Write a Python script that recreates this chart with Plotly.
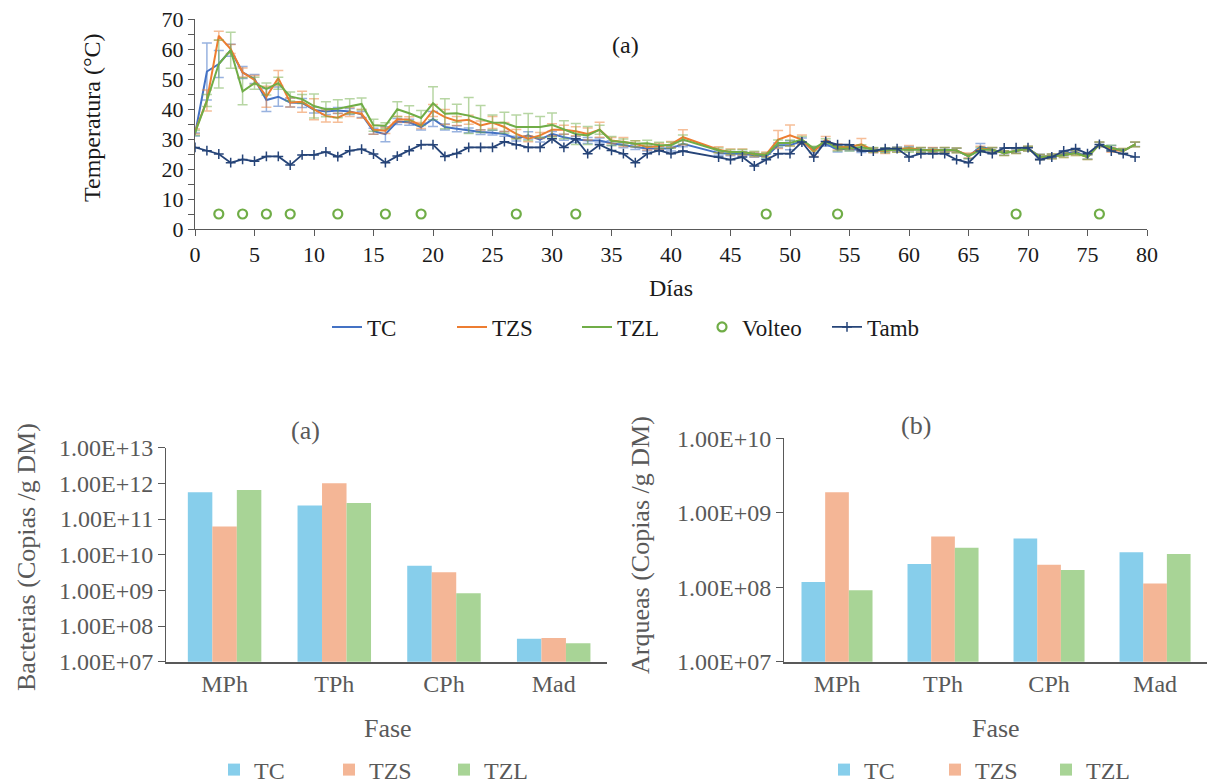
import plotly.graph_objects as go

W, H = 1207, 783

# ---------------- data: temperature chart ----------------
days = [0, 1, 2, 3, 4, 5, 6, 7, 8, 9, 10, 11, 12, 13, 14, 15, 16, 17, 18, 19,
        20, 21, 22, 23, 24, 25, 26, 27, 28, 29, 30, 31, 32, 33, 34, 35, 36, 37, 38, 39,
        40, 41, 44, 45, 46, 47, 48, 49, 50, 51, 52, 53, 54, 55, 56, 57, 58, 59, 60, 61,
        62, 63, 64, 65, 66, 67, 68, 69, 70, 71, 72, 73, 74, 75, 76, 77, 78, 79]

tc = [31.5, 52.5, 55.0, 59.6, 52.2, 50.0, 43.0, 44.1, 42.2, 42.0,
      39.7, 39.2, 39.5, 39.2, 38.2, 32.6, 31.6, 35.8, 35.6, 34.0,
      36.7, 34.0, 33.4, 32.9, 32.3, 32.1, 31.7, 30.1, 31.2, 29.8,
      31.7, 30.6, 29.8, 29.5, 29.5, 28.6, 27.9, 27.3, 26.8, 26.8,
      26.8, 28.4,
      25.3, 25.1, 25.1, 24.6, 24.2, 27.9, 27.9, 29.3, 26.4, 28.4,
      26.4, 26.8, 26.2, 26.2, 26.4, 26.6, 26.8, 26.4, 26.4, 26.4,
      26.2, 24.2, 27.5, 26.4, 25.3, 26.0, 26.8, 24.2, 24.2, 25.1,
      25.7, 24.0, 28.2, 27.1, 26.0, 28.2]
tc_err = [0.5, 9.5, 4.5, 2.0, 2.0, 1.5, 3.8, 3.2, 1.5, 1.5,
          1.0, 1.0, 1.0, 1.0, 1.0, 1.0, 2.5, 1.0, 1.0, 1.0,
          2.5, 1.0, 1.0, 0.8, 0.8, 0.8, 0.8, 0.8, 1.2, 0.8,
          0.8, 1.0, 1.0, 1.0, 0.8, 0.8, 0.8, 0.8, 0.8, 0.8,
          0.8, 1.0,
          0.7, 0.7, 0.7, 0.7, 0.7, 0.8, 1.5, 1.0, 1.0, 0.8,
          0.7, 0.7, 0.7, 0.7, 0.7, 0.7, 0.7, 0.7, 0.7, 0.7,
          0.7, 0.7, 1.0, 0.7, 0.7, 0.7, 0.7, 0.7, 0.7, 0.7,
          0.7, 0.7, 0.7, 0.7, 0.7, 0.7]

tzs = [32.5, 42.8, 64.4, 60.0, 52.2, 49.7, 44.1, 50.3, 42.2, 42.4,
       39.9, 37.7, 37.1, 39.0, 38.4, 33.1, 32.8, 36.6, 36.4, 34.5,
       39.5, 37.3, 36.0, 36.4, 34.5, 35.5, 34.0, 31.7, 30.1, 31.2,
       33.1, 33.1, 32.6, 31.7, 33.1, 29.5, 29.0, 28.4, 27.3, 27.6,
       28.2, 30.6,
       26.4, 25.7, 25.7, 24.9, 24.9, 29.8, 31.2, 29.8, 25.7, 29.8,
       27.3, 27.3, 28.2, 26.2, 26.0, 26.4, 27.0, 26.4, 26.4, 26.4,
       26.2, 24.5, 26.8, 26.4, 25.3, 26.0, 26.8, 24.0, 24.2, 24.6,
       25.3, 24.0, 28.2, 26.4, 26.0, 28.2]
tzs_err = [0.8, 3.5, 1.5, 1.5, 1.5, 1.5, 3.5, 2.5, 1.5, 3.5,
           3.5, 2.0, 1.5, 1.5, 1.5, 1.5, 1.0, 1.0, 1.0, 1.0,
           2.0, 2.5, 1.5, 1.5, 1.5, 2.0, 1.5, 1.5, 1.0, 1.0,
           2.0, 1.5, 1.5, 2.0, 2.5, 1.0, 1.5, 1.0, 1.0, 1.0,
           1.0, 2.5,
           1.0, 1.0, 1.0, 0.8, 0.8, 3.0, 3.5, 1.5, 1.5, 1.0,
           1.0, 0.8, 2.0, 0.8, 0.8, 0.8, 0.8, 0.8, 0.8, 0.8,
           0.8, 0.8, 0.8, 0.8, 0.8, 0.8, 0.8, 0.8, 0.8, 0.8,
           0.8, 0.8, 0.8, 0.8, 0.8, 0.8]

tzl = [32.0, 42.8, 55.0, 59.6, 45.9, 48.6, 46.7, 48.6, 44.2, 43.3,
       41.0, 39.9, 40.1, 40.9, 41.7, 34.6, 34.4, 39.9, 38.6, 37.0,
       41.9, 38.4, 38.6, 37.8, 36.7, 35.5, 35.4, 34.0, 34.0, 34.0,
       34.7, 33.1, 31.7, 31.2, 33.1, 29.3, 29.0, 28.4, 28.6, 27.9,
       27.9, 29.8,
       26.2, 25.7, 25.7, 25.1, 24.6, 28.7, 28.7, 29.8, 26.8, 29.3,
       26.8, 26.8, 27.3, 26.4, 26.2, 26.4, 26.4, 26.4, 26.0, 26.4,
       26.2, 24.2, 26.4, 26.4, 25.3, 26.0, 26.8, 24.0, 24.2, 24.6,
       25.3, 24.0, 28.2, 27.1, 26.0, 28.2]
tzl_err = [0.8, 2.0, 8.0, 6.0, 4.5, 2.0, 2.0, 2.0, 1.5, 1.5,
           4.0, 2.5, 3.0, 2.5, 2.0, 2.0, 1.0, 2.5, 2.5, 2.5,
           5.5, 5.0, 3.0, 6.0, 4.5, 2.5, 3.5, 4.0, 4.5, 3.5,
           4.0, 3.0, 3.5, 3.0, 1.5, 1.5, 1.0, 1.0, 1.0, 1.0,
           1.0, 1.5,
           0.8, 0.8, 0.8, 0.8, 0.8, 1.0, 1.0, 1.0, 0.8, 0.8,
           0.8, 0.8, 0.8, 0.8, 0.8, 0.8, 0.8, 0.8, 0.8, 0.8,
           0.8, 0.8, 0.8, 0.8, 0.8, 0.8, 0.8, 0.8, 0.8, 0.8,
           0.8, 0.8, 0.8, 0.8, 0.8, 0.8]

tamb = [27.2, 26.1, 25.0, 22.1, 23.2, 22.6, 24.2, 24.2, 21.3, 24.7,
        24.7, 25.7, 24.1, 26.1, 26.6, 25.0, 22.1, 24.3, 26.1, 28.1,
        28.1, 24.2, 25.2, 27.2, 27.2, 27.2, 29.1, 28.1, 27.2, 27.2,
        30.1, 27.2, 30.1, 25.1, 28.1, 26.2, 25.1, 22.1, 25.1, 26.2,
        25.1, 26.0,
        24.0, 23.1, 24.0, 21.0, 23.1, 25.1, 25.1, 29.0, 24.0, 29.2,
        28.1, 28.1, 26.0, 26.0, 26.8, 26.8, 24.0, 25.1, 25.1, 25.1,
        23.1, 22.1, 26.0, 25.1, 27.0, 27.1, 27.1, 23.1, 24.0, 26.0,
        26.8, 25.1, 28.2, 26.0, 25.1, 24.0]

volteo_days = [2, 4, 6, 8, 12, 16, 19, 27, 32, 48, 54, 69, 76]
volteo_y = [5, 5, 5, 5, 5, 5, 5, 5, 5, 5, 5, 5, 5]

# ---------------- data: bar charts ----------------
phases = ["MPh", "TPh", "CPh", "Mad"]
bact_tc = [5.6e11, 2.4e11, 4.9e9, 4.4e7]
bact_tzs = [6.2e10, 1.0e12, 3.2e9, 4.6e7]
bact_tzl = [6.5e11, 2.8e11, 8.3e8, 3.3e7]
arq_tc = [1.18e8, 2.05e8, 4.5e8, 2.95e8]
arq_tzs = [1.88e9, 4.8e8, 2.0e8, 1.12e8]
arq_tzl = [9.1e7, 3.4e8, 1.7e8, 2.8e8]
bact_ticks = [1e7, 1e8, 1e9, 1e10, 1e11, 1e12, 1e13]
bact_labels = ["1.00E+07", "1.00E+08", "1.00E+09", "1.00E+10", "1.00E+11", "1.00E+12", "1.00E+13"]
arq_ticks = [1e7, 1e8, 1e9, 1e10]
arq_labels = ["1.00E+07", "1.00E+08", "1.00E+09", "1.00E+10"]

FONT = "Liberation Serif"
TOPC = "#1a1a1a"
BOTC = "#595959"
AX = "#595959"


def px(x):
    return x / W


def py(y):
    return 1 - y / H


fig = go.Figure()

line_specs = [
    ("TC", tc, tc_err, "#4472C4", "rgba(68,114,196,0.55)"),
    ("TZS", tzs, tzs_err, "#ED7D31", "rgba(237,125,49,0.5)"),
    ("TZL", tzl, tzl_err, "#70AD47", "rgba(112,173,71,0.5)"),
]
for name, vals, err, col, ecol in line_specs:
    fig.add_trace(go.Scatter(
        x=days, y=vals, name=name, mode="lines",
        line=dict(color=col, width=2),
        error_y=dict(type="data", array=err, visible=True, color=ecol,
                     thickness=1.5, width=5),
        xaxis="x", yaxis="y", legend="legend"))

fig.add_trace(go.Scatter(
    x=volteo_days, y=volteo_y, name="Volteo", mode="markers",
    marker=dict(symbol="circle-open", size=9, color="#70AD47",
                line=dict(width=2.2, color="#70AD47")),
    xaxis="x", yaxis="y", legend="legend"))

fig.add_trace(go.Scatter(
    x=days, y=tamb, name="Tamb", mode="lines+markers",
    line=dict(color="#264478", width=1.8),
    marker=dict(symbol="cross-thin", size=7, line=dict(width=1.5, color="#264478")),
    xaxis="x", yaxis="y", legend="legend"))

bar_cols = {"TC": "#87CEEB", "TZS": "#F4B696", "TZL": "#A8D496"}
for name, vals in [("TC", bact_tc), ("TZS", bact_tzs), ("TZL", bact_tzl)]:
    fig.add_trace(go.Bar(x=phases, y=vals, name=name, marker=dict(color=bar_cols[name], line=dict(width=0)),
                         xaxis="x2", yaxis="y2", legend="legend2"))
for name, vals in [("TC", arq_tc), ("TZS", arq_tzs), ("TZL", arq_tzl)]:
    fig.add_trace(go.Bar(x=phases, y=vals, name=name, marker=dict(color=bar_cols[name], line=dict(width=0)),
                         xaxis="x3", yaxis="y3", legend="legend3"))

tick_top = dict(family=FONT, size=22, color=TOPC)
tick_bot = dict(family=FONT, size=24, color=BOTC)

fig.update_layout(
    width=W, height=H,
    margin=dict(l=0, r=0, t=0, b=0, autoexpand=False),
    paper_bgcolor="white", plot_bgcolor="white",
    barmode="group", bargap=0.33, bargroupgap=0,
    font=dict(family=FONT, color=TOPC),
    xaxis=dict(domain=[px(195), px(1147)], range=[0, 80], dtick=5, tick0=0,
               showline=True, linecolor=AX, linewidth=1, ticks="outside", ticklen=6,
               tickcolor=AX, showgrid=False, zeroline=False, tickfont=tick_top,
               anchor="y", automargin=False),
    yaxis=dict(domain=[py(229), py(19)], range=[0, 70], dtick=10, tick0=0,
               showline=True, linecolor=AX, linewidth=1, ticks="outside", ticklen=6,
               tickcolor=AX, showgrid=False, zeroline=False, tickfont=tick_top,
               minor=dict(dtick=5, ticks="outside", ticklen=6, tickcolor=AX),
               anchor="x", automargin=False),
    xaxis2=dict(domain=[px(166), px(607)], range=[-0.534, 3.486], type="category",
                showline=True, linecolor=AX, linewidth=1.5, ticks="", showgrid=False,
                tickfont=tick_bot, anchor="y2", automargin=False),
    yaxis2=dict(domain=[py(661.7), py(447.7)], type="log", range=[7, 13],
                tickvals=bact_ticks, ticktext=bact_labels,
                showline=True, linecolor=AX, linewidth=1, ticks="outside", ticklen=7,
                tickcolor=AX, showgrid=False, zeroline=False, tickfont=tick_bot,
                anchor="x2", automargin=False),
    xaxis3=dict(domain=[px(784), 1.0], range=[-0.5, 3.49], type="category",
                showline=True, linecolor=AX, linewidth=1.5, ticks="", showgrid=False,
                tickfont=tick_bot, anchor="y3", automargin=False),
    yaxis3=dict(domain=[py(661.7), py(438.3)], type="log", range=[7, 10],
                tickvals=arq_ticks, ticktext=arq_labels,
                showline=True, linecolor=AX, linewidth=1, ticks="outside", ticklen=7,
                tickcolor=AX, showgrid=False, zeroline=False, tickfont=tick_bot,
                anchor="x3", automargin=False),
    legend=dict(orientation="h", xref="container", yref="container",
                x=px(327), y=py(327), xanchor="left", yanchor="middle",
                entrywidth=80, entrywidthmode="pixels",
                font=dict(family=FONT, size=23, color=TOPC), bgcolor="rgba(0,0,0,0)"),
    legend2=dict(orientation="h", xref="container", yref="container",
                 x=px(214), y=py(770), xanchor="left", yanchor="middle",
                 entrywidth=70, entrywidthmode="pixels",
                 font=dict(family=FONT, size=24, color=BOTC), bgcolor="rgba(0,0,0,0)"),
    legend3=dict(orientation="h", xref="container", yref="container",
                 x=px(824), y=py(770), xanchor="left", yanchor="middle",
                 entrywidth=66, entrywidthmode="pixels",
                 font=dict(family=FONT, size=24, color=BOTC), bgcolor="rgba(0,0,0,0)"),
)

annos = [
    ("Temperatura (°C)", 92, 118, -90, 24, TOPC),
    ("(a)", 625, 45, 0, 24, TOPC),
    ("Días", 671, 288, 0, 24, TOPC),
    ("(a)", 305, 430, 0, 26, BOTC),
    ("(b)", 916, 425, 0, 26, BOTC),
    ("Fase", 388, 728, 0, 26, BOTC),
    ("Fase", 996, 728, 0, 26, BOTC),
    ("Bacterias (Copias /g DM)", 26, 557, -90, 26, BOTC),
    ("Arqueas (Copias /g DM)", 640, 545, -90, 26, BOTC),
]
for text, x, y, ang, size, col in annos:
    fig.add_annotation(text=text, x=px(x), y=py(y), xref="paper", yref="paper",
                       xanchor="center", yanchor="middle", textangle=ang, showarrow=False,
                       font=dict(family=FONT, size=size, color=col))

fig.write_html("out.html")
